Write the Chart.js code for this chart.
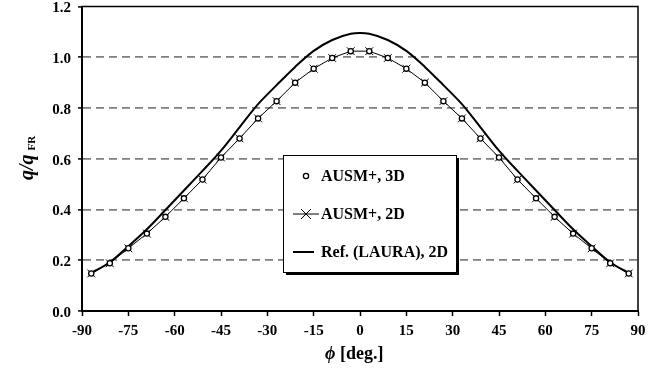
<!DOCTYPE html>
<html>
<head>
<meta charset="utf-8">
<script src="https://cdn.jsdelivr.net/npm/chart.js@4.4.1/dist/chart.umd.min.js"></script>
<style>
  body { margin: 0; background: #fff; }
  #wrap { width: 651px; height: 379px; }
</style>
</head>
<body>
<div id="wrap"><canvas id="chart" width="651" height="379"></canvas></div>
<script>
// angles of the computed points (deg)
const phiPts = [-87, -81, -75, -69, -63, -57, -51, -45, -39, -33, -27, -21, -15, -9, -3,
                3, 9, 15, 21, 27, 33, 39, 45, 51, 57, 63, 69, 75, 81, 87];
const ausm3D = [0.148, 0.188, 0.247, 0.305, 0.371, 0.444, 0.518, 0.605, 0.680, 0.759, 0.827, 0.900, 0.955, 0.997, 1.024,
                1.024, 0.997, 0.955, 0.900, 0.827, 0.759, 0.680, 0.605, 0.518, 0.444, 0.371, 0.305, 0.247, 0.188, 0.148];
const ausm2D = [0.148, 0.188, 0.247, 0.305, 0.371, 0.444, 0.518, 0.605, 0.680, 0.759, 0.827, 0.900, 0.955, 0.997, 1.024,
                1.024, 0.997, 0.955, 0.900, 0.827, 0.759, 0.680, 0.605, 0.518, 0.444, 0.371, 0.305, 0.247, 0.188, 0.148];
// reference (LAURA) curve
const phiRef = [-87, -81, -75, -69, -63, -57, -51, -45, -39, -33, -27, -21, -15, -9, -3, 0,
                3, 9, 15, 21, 27, 33, 39, 45, 51, 57, 63, 69, 75, 81, 87];
const laura = [0.150, 0.192, 0.255, 0.322, 0.398, 0.475, 0.552, 0.632, 0.724, 0.815, 0.890, 0.962, 1.025, 1.068, 1.093, 1.096,
               1.093, 1.068, 1.025, 0.962, 0.890, 0.815, 0.724, 0.632, 0.552, 0.475, 0.398, 0.322, 0.255, 0.192, 0.150];
const labels = ['AUSM+, 3D', 'AUSM+, 2D', 'Ref. (LAURA), 2D'];

const serif = '"Liberation Serif", "Times New Roman", serif';

function pts(xs, ys) {
    return xs.map((x, i) => ({ x: x, y: ys[i] }));
}

// frame, legend box and axis titles
const decor = {
    id: 'decor',
    afterDraw(chart) {
        const ctx = chart.ctx;
        const a = chart.chartArea;
        ctx.save();
        ctx.strokeStyle = '#000';
        ctx.lineWidth = 1.5;
        ctx.strokeRect(a.left, a.top, a.right - a.left, a.bottom - a.top);

        // legend
        const lx = 283, ly = 155, lw = 173, lh = 117;
        ctx.fillStyle = '#000';
        ctx.fillRect(lx + 3, ly + 3, lw, lh);
        ctx.fillStyle = '#fff';
        ctx.fillRect(lx, ly, lw, lh);
        ctx.lineWidth = 1;
        ctx.strokeRect(lx + 0.5, ly + 0.5, lw, lh);

        const rows = [176, 214, 252];
        ctx.font = 'bold 16px ' + serif;
        ctx.textBaseline = 'middle';
        chart.data.datasets.forEach((ds, i) => {
            const y = rows[i];
            ctx.strokeStyle = '#000';
            if (ds.showLine !== false) {
                ctx.lineWidth = ds.borderWidth;
                ctx.beginPath();
                ctx.moveTo(293, y);
                ctx.lineTo(i === 2 ? 314 : 319, y);
                ctx.stroke();
            }
            if (ds.pointRadius > 0) {
                Chart.helpers.drawPoint(ctx, {
                    pointStyle: ds.pointStyle,
                    radius: i === 1 ? 7 : ds.pointRadius,
                    borderWidth: ds.pointBorderWidth,
                    rotation: 0
                }, 306, y);
                ctx.fillStyle = ds.pointBackgroundColor;
                ctx.strokeStyle = ds.borderColor;
                ctx.lineWidth = ds.pointBorderWidth;
                if (ds.pointStyle === 'circle') {
                    ctx.fill();
                }
                ctx.stroke();
            }
            ctx.fillStyle = '#000';
            ctx.fillText(ds.label, 321, y + 1);
        });

        // x title
        ctx.textBaseline = 'middle';
        ctx.font = 'bold italic 18px ' + serif;
        ctx.fillText('ϕ', 325, 354);
        const w = ctx.measureText('ϕ ').width;
        ctx.font = 'bold 18px ' + serif;
        ctx.fillText('[deg.]', 325 + w, 354);

        // y title
        ctx.translate(28, 180);
        ctx.rotate(-Math.PI / 2);
        ctx.textBaseline = 'middle';
        ctx.font = 'bold italic 20px ' + serif;
        ctx.fillText('q/q', 0, 0);
        const w2 = ctx.measureText('q/q').width;
        ctx.font = 'bold 11px ' + serif;
        ctx.fillText('FR', w2 + 4, 4);
        ctx.restore();
    }
};

const ctx = document.getElementById('chart').getContext('2d');
const myChart = new Chart(ctx, {
    type: 'scatter',
    data: {
        datasets: [{
            label: labels[0],
            data: pts(phiPts, ausm3D),
            showLine: false,
            pointStyle: 'circle',
            pointRadius: 2.6,
            pointBorderWidth: 1.3,
            borderColor: '#000',
            pointBackgroundColor: '#fff',
            order: 0
        }, {
            label: labels[1],
            data: pts(phiPts, ausm2D),
            showLine: true,
            borderWidth: 1,
            borderColor: '#000',
            pointStyle: 'crossRot',
            pointRadius: 5.5,
            pointBorderWidth: 1,
            pointBackgroundColor: '#000',
            tension: 0,
            order: 1
        }, {
            label: labels[2],
            data: pts(phiRef, laura),
            showLine: true,
            borderWidth: 2,
            borderColor: '#000',
            pointRadius: 0,
            cubicInterpolationMode: 'monotone',
            order: 2
        }]
    },
    options: {
        responsive: false,
        animation: false,
        events: [],
        layout: { padding: { top: 6, right: 13, left: 0, bottom: 0 } },
        plugins: {
            legend: { display: false },
            tooltip: { enabled: false }
        },
        scales: {
            x: {
                type: 'linear',
                min: -90,
                max: 90,
                ticks: {
                    stepSize: 15,
                    padding: 6,
                    color: '#000',
                    font: { family: serif, size: 15, weight: 'bold' }
                },
                grid: {
                    drawOnChartArea: false,
                    drawTicks: true,
                    tickLength: 5,
                    tickColor: '#000',
                    tickWidth: 1.5
                },
                border: { display: true, color: '#000', width: 2 },
                afterFit: (scale) => {
                    scale.height = 68;
                    scale.paddingLeft = 0;
                    scale.paddingRight = 0;
                }
            },
            y: {
                min: 0,
                max: 1.2,
                ticks: {
                    stepSize: 0.2,
                    padding: 7,
                    labelOffset: 2,
                    color: '#000',
                    font: { family: serif, size: 15, weight: 'bold' },
                    callback: (v) => v.toFixed(1)
                },
                grid: {
                    drawTicks: true,
                    tickLength: 4,
                    tickColor: '#000',
                    tickWidth: 1.5,
                    lineWidth: 1.8,
                    color: (c) => (c.tick && (c.tick.value < 0.01 || c.tick.value > 1.19)) ? 'rgba(0,0,0,0)' : '#7f7f7f'
                },
                border: { display: true, color: '#000', width: 2, dash: [8, 5] },
                afterFit: (scale) => {
                    scale.width = 82;
                    scale.paddingTop = 0;
                    scale.paddingBottom = 0;
                }
            }
        }
    },
    plugins: [decor]
});
</script>
</body>
</html>
